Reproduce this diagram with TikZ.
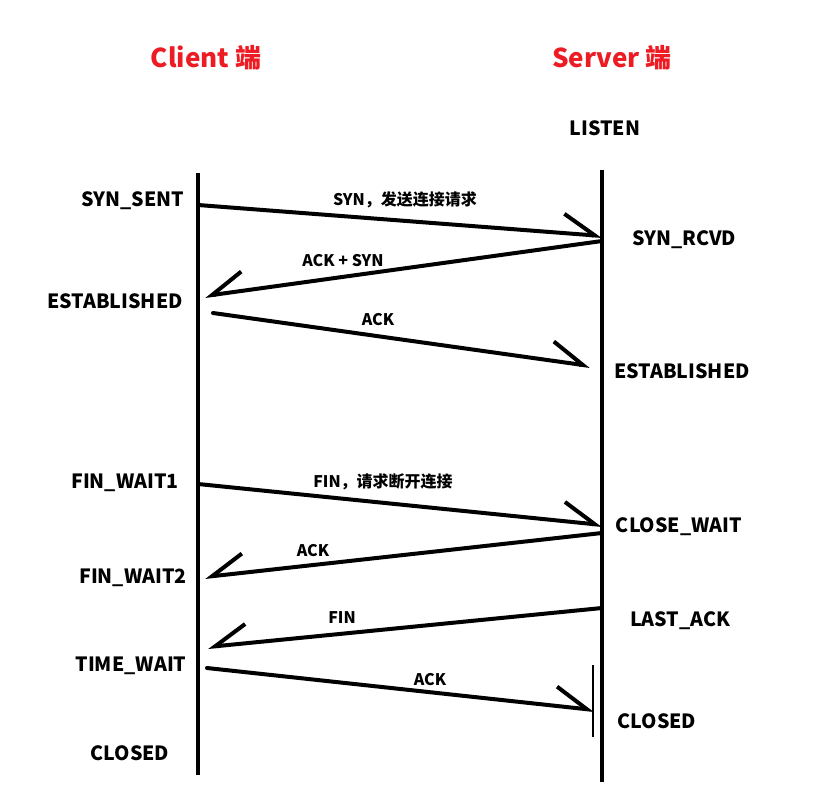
\documentclass[tikz,border=0pt]{standalone}
\usepackage{fontspec}
\setmainfont{Noto Sans CJK SC}
\usetikzlibrary{arrows.meta}
\definecolor{sidered}{RGB}{237,28,36}

\begin{document}
\begin{tikzpicture}[x=1pt, y=-1pt,
	side/.style={anchor=base, text=sidered, font=\bfseries\fontsize{26}{30}\selectfont},
	state/.style={anchor=base, font=\bfseries\fontsize{19.6}{22}\selectfont},
	msg/.style={anchor=base, font=\bfseries\fontsize{16}{18}\selectfont},
	life/.style={line width=4pt},
	tor/.style={line width=4pt, line cap=round, -{Straight Barb[left, length=32pt, angle'=62]}},
	tol/.style={line width=4pt, line cap=round, -{Straight Barb[right, length=32pt, angle'=62]}}]
		\useasboundingbox (0,0) rectangle (840,811);
		% two ends
		\node at (206,67) [side] (c000) {Client 端};
		\node at (612,67) [side] (s000) {Server 端};
		\node at (605,135) [state] (s050) {LISTEN};
		% life lines
		\coordinate (ct) at (198,173);
		\coordinate (cb) at (198,775);
		\coordinate (st) at (602,170);
		\coordinate (sb) at (602,782);
		\draw[life] (ct) -- (cb);
		\draw[life] (st) -- (sb);
		\draw[line width=1.3pt] (593,665) -- (593,737);
		% client states
		\node at (133,206) [state] (c100) {SYN\_SENT};
		\node at (115,308) [state] (c200) {ESTABLISHED};
		\node at (125,488) [state] (c300) {FIN\_WAIT1};
		\node at (133,583) [state] (c400) {FIN\_WAIT2};
		\node at (131,671) [state] (c500) {TIME\_WAIT};
		\node at (130,760) [state] (c600) {CLOSED};
		% server states
		\node at (684,245) [state] (s100) {SYN\_RCVD};
		\node at (682,378) [state] (s200) {ESTABLISHED};
		\node at (679,532) [state] (s300) {CLOSE\_WAIT};
		\node at (680,626) [state] (s400) {LAST\_ACK};
		\node at (657,728) [state] (s500) {CLOSED};
		% message ends
		\coordinate (a1) at (198,205);
		\coordinate (b1) at (602,236);
		\coordinate (a2) at (602,241);
		\coordinate (b2) at (205,296);
		\coordinate (a3) at (213,313);
		\coordinate (b3) at (590,366);
		\coordinate (a4) at (198,484);
		\coordinate (b4) at (602,525);
		\coordinate (a5) at (602,533);
		\coordinate (b5) at (205,577);
		\coordinate (a6) at (602,608);
		\coordinate (b6) at (208,647);
		\coordinate (a7) at (207,668);
		\coordinate (b7) at (594,710);
		\draw[tor] (a1) -- (b1);
		\draw[tol] (a2) -- (b2);
		\draw[tor] (a3) -- (b3);
		\draw[tor] (a4) -- (b4);
		\draw[tol] (a5) -- (b5);
		\draw[tol] (a6) -- (b6);
		\draw[tor] (a7) -- (b7);
		% message labels
		\node at (405,205) [msg] (m100) {SYN，发送连接请求};
		\node at (343,266) [msg] (m200) {ACK + SYN};
		\node at (378,325) [msg] (m300) {ACK};
		\node at (383,487) [msg] (m400) {FIN，请求断开连接};
		\node at (313,556) [msg] (m500) {ACK};
		\node at (342,623) [msg] (m600) {FIN};
		\node at (430,685) [msg] (m700) {ACK};
		\end{tikzpicture}
\end{document}
